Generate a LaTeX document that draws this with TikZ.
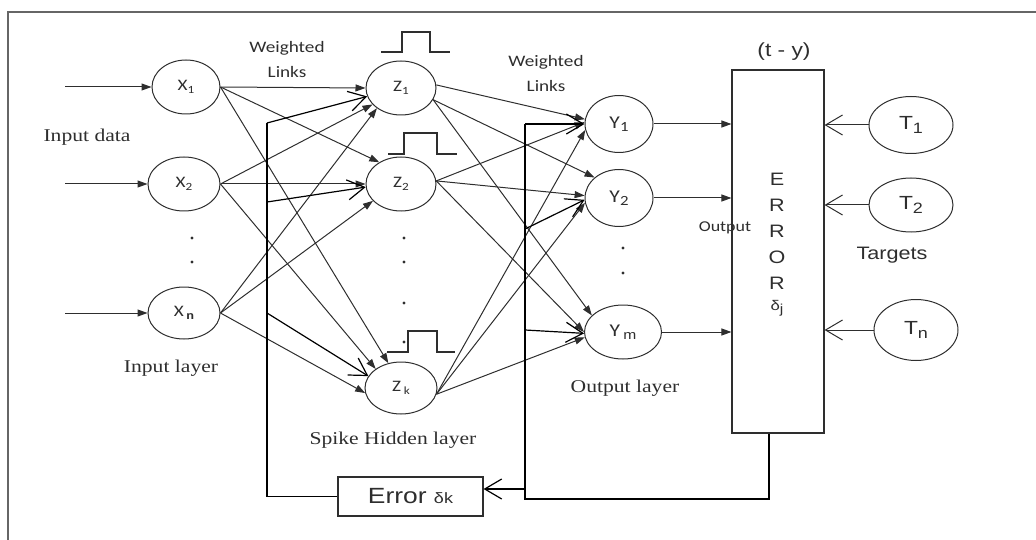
\documentclass[tikz,border=0pt]{standalone}
\usepackage{fontspec}
\setmainfont{Liberation Serif}[FakeStretch=1.2]
\newfontfamily\arialf{Liberation Sans}[FakeStretch=1.2]
\newfontfamily\calf{Carlito}[FakeStretch=1.2]
\usetikzlibrary{shapes.geometric,arrows.meta,calc}
\definecolor{ink}{HTML}{2E2E2E}
\newcommand{\fsz}[1]{\fontsize{#1}{#1}\selectfont}
\newcommand{\sbs}[2]{\raisebox{-0.35ex}{\fsz{#1}#2}}
\begin{document}
\begin{tikzpicture}[x=1pt,y=-1pt,
  neuron/.style={ellipse, draw=ink, line width=1pt, inner sep=0pt, text=ink},
  box/.style={rectangle, draw=ink, line width=1.1pt, inner sep=0pt, text=ink},
  link/.style={draw=ink, line width=1pt, -{Triangle[length=10pt,width=7pt]}},
  fb/.style={draw=black, line width=1.2pt},
  fbarrow/.style={fb, -{Straight Barb[length=17pt,width=20pt]}},
  openarrow/.style={draw=ink, line width=1pt, -{Straight Barb[length=17pt,width=20pt]}},
  txt/.style={inner sep=0pt, text=ink},
  pulse/.style={draw=ink, line width=1.1pt},
  framel/.style={draw=black!60, line width=1.8pt},
  dot/.style={fill=ink}]
\useasboundingbox (0,0) rectangle (1036,540);
\draw[framel] (8,540) -- (8,12) -- (1036,12);

% input layer
\node[neuron, minimum width=68pt, minimum height=54pt] (X1) at (186,87) {\calf\fsz{16}X\sbs{11}{1}};
\node[neuron, minimum width=72pt, minimum height=54pt] (X2) at (184,184) {\calf\fsz{16}X\sbs{11}{2}};
\node[neuron, minimum width=72pt, minimum height=52pt] (Xn) at (184,313) {\calf\fsz{16}X\,\sbs{12}{\bfseries n}};
\coordinate (in1) at (65,87);
\coordinate (in2) at (65,184);
\coordinate (in3) at (65,313);
\draw[link] (in1) -- (X1.west);
\draw[link] (in2) -- (X2.west);
\draw[link] (in3) -- (Xn.west);
\fill[dot] (192,238) circle[radius=1.7pt];
\fill[dot] (192,262) circle[radius=1.7pt];

% hidden layer
\node[neuron, minimum width=70pt, minimum height=54pt] (Z1) at (401,88) {\calf\fsz{16}Z\sbs{11}{1}};
\node[neuron, minimum width=70pt, minimum height=54pt] (Z2) at (401,184) {\calf\fsz{16}Z\sbs{11}{2}};
\node[neuron, minimum width=72pt, minimum height=52pt] (Zk) at (401,388) {\calf\fsz{16}Z\,\sbs{11}{k}};
\draw[pulse] (381,52) -- (402,52) -- (402,32) -- (430,32) -- (430,52) -- (450,52);
\draw[pulse] (388,154) -- (404,154) -- (404,133) -- (437,133) -- (437,154) -- (457,154);
\draw[pulse] (387,352) -- (408,352) -- (408,331) -- (437,331) -- (437,352) -- (455,352);
\fill[dot] (404,238) circle[radius=1.7pt];
\fill[dot] (404,262) circle[radius=1.7pt];
\fill[dot] (404,303) circle[radius=1.7pt];
\fill[dot] (404,342) circle[radius=1.7pt];

% output layer
\node[neuron, minimum width=68pt, minimum height=57pt] (Y1) at (619,124) {\calf\fsz{18}Y\sbs{14}{1}};
\node[neuron, minimum width=68pt, minimum height=57pt] (Y2) at (619,198) {\calf\fsz{18}Y\sbs{14}{2}};
\node[neuron, minimum width=77pt, minimum height=54pt] (Ym) at (623,332) {\calf\fsz{18}Y\,\sbs{13}{\arialf m}};
\fill[dot] (623,248) circle[radius=1.7pt];
\fill[dot] (623,273) circle[radius=1.7pt];

% error box and targets
\node[box, minimum width=92pt, minimum height=363pt] (ERR) at (778,251.5) {};
\node[txt, align=center, font={\arialf\fontsize{18}{26}\selectfont}] (ERRtxt) at (777,231) {E\\R\\R\\O\\R};
\node[txt, font=\arialf\fsz{14}] (dj) at (777,308) {δ\sbs{13}{j}};
\node[neuron, minimum width=84pt, minimum height=57pt] (T1) at (911,125) {\arialf\fsz{19}T\sbs{15}{1}};
\node[neuron, minimum width=84pt, minimum height=54pt] (T2) at (911,205) {\arialf\fsz{19}T\sbs{15}{2}};
\node[neuron, minimum width=84pt, minimum height=61pt] (Tn) at (916,330) {\arialf\fsz{19}T\sbs{15}{n}};
\node[box, minimum width=145pt, minimum height=39pt] (EK) at (410.5,496.5) {\arialf\fsz{22}Error \fsz{15}δk\hspace{16pt}};

% labels
\node[txt, font=\calf\fsz{16}] (wl1a) at (287,48) {Weighted};
\node[txt, font=\calf\fsz{16}] (wl1b) at (287,72) {Links};
\node[txt, font=\calf\fsz{16}] (wl2a) at (546,62) {Weighted};
\node[txt, font=\calf\fsz{16}] (wl2b) at (546,86) {Links};
\node[txt, font=\fsz{18}] (indata) at (87,137) {Input data};
\node[txt, font=\fsz{18}] (inlay) at (171,368) {Input layer};
\node[txt, font=\fsz{18}] (hidlay) at (393,440) {Spike Hidden layer};
\node[txt, font=\fsz{18}] (outlay) at (625,388) {Output layer};
\node[txt, font=\arialf\fsz{19}] (tmy) at (784,52) {(t - y)};
\node[txt, font=\calf\fsz{15}] (outp) at (725,228) {Output};
\node[txt, font=\arialf\fsz{18}] (targ) at (892,255) {Targets};

% weighted links X -> Z
\draw[link] (X1.east) -- (Z1.west);
\draw[link] (X1.east) -- (Z2.135);
\draw[link] (X1.east) -- (Zk.117);
\draw[link] (X2.east) -- (Z1.210);
\draw[link] (X2.east) -- (Z2.west);
\draw[link] (X2.east) -- (Zk.143);
\draw[link] (Xn.east) -- (Z1.220);
\draw[link] (Xn.east) -- (Z2.211);
\draw[link] (Xn.east) -- (Zk.188);

% weighted links Z -> Y
\draw[link] (Z1.5) -- (Y1.172);
\draw[link] (Z1.-20) -- (Y2.140);
\draw[link] (Z1.-20) -- (Ym.152);
\draw[link] (Z2.5) -- (Y1.177);
\draw[link] (Z2.5) -- (Y2.176);
\draw[link] (Z2.5) -- (Ym.180);
\draw[link] (Zk.-10) -- (Y1.190);
\draw[link] (Zk.-10) -- (Y2.188);
\draw[link] (Zk.-10) -- (Ym.188);

% outputs to error box, targets to error box
\draw[link] (Y1.east) -- (Y1.east -| ERR.west);
\draw[link] (Y2.east) -- (Y2.east -| ERR.west);
\draw[link] (Ym.east) -- (Ym.east -| ERR.west);
\draw[openarrow] (T1.west) -- (T1.west -| ERR.east);
\draw[openarrow] (T2.west) -- (T2.west -| ERR.east);
\draw[openarrow] (Tn.west) -- (Tn.west -| ERR.east);

% feedback from error box to output layer
\coordinate (fr1) at (769,499);
\coordinate (fr2) at (525,499);
\coordinate (fr3) at (525,229);
\coordinate (fr4) at (525,330);
\coordinate (fr5) at (525,489);
\draw[fb] (ERR.south -| fr1) -- (fr1) -- (fr2) -- (fr2 |- Y1.west);
\draw[fbarrow] (fr2 |- Y1.west) -- (Y1.west);
\draw[fbarrow] (fr3) -- (Y2.183);
\draw[fbarrow] (fr4) -- (Ym.182);
\draw[fbarrow] (fr5) -- (fr5 -| EK.east);

% feedback from Error delta_k to hidden layer
\coordinate (fl1) at (267,123);
\coordinate (fl2) at (267,202);
\coordinate (fl3) at (267,313);
\draw[fb] (EK.west) -- (EK.west -| fl1) -- (fl1);
\draw[fbarrow] (fl1) -- (Z1.194);
\draw[fbarrow] (fl2) -- (Z2.185);
\draw[fbarrow] (fl3) -- (Zk.160);
\end{tikzpicture}
\end{document}
